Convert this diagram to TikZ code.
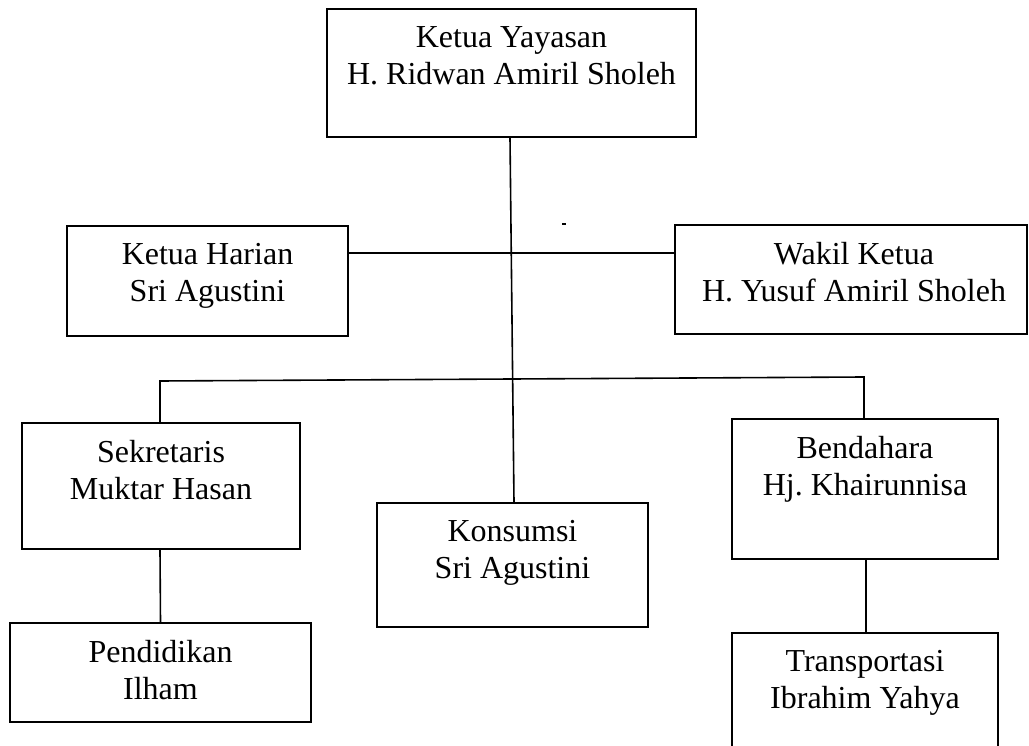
\documentclass[tikz,border=0pt]{standalone}
\usepackage{fontspec}
\setmainfont{Liberation Serif}
\frenchspacing
\begin{document}
\begin{tikzpicture}[x=1pt,y=-1pt,
  box/.style={draw=black, line width=1.6pt, rectangle, inner sep=0pt},
  lbl/.style={anchor=north, align=center, inner sep=0pt, font=\fontsize{32}{37}\selectfont},
  conn/.style={draw=black, line width=1.6pt}]
\useasboundingbox (0,0) rectangle (1029,746);
% boxes
\node[box, minimum width=369pt, minimum height=128pt] (ky) at (511.5,73) {};
\node[box, minimum width=281pt, minimum height=110pt] (kh) at (207.5,281) {};
\node[box, minimum width=352pt, minimum height=109pt] (wk) at (851,279.5) {};
\node[box, minimum width=278pt, minimum height=126pt] (sk) at (161,486) {};
\node[box, minimum width=271pt, minimum height=124pt] (ks) at (512.5,565) {};
\node[box, minimum width=266pt, minimum height=140pt] (bd) at (865,489) {};
\node[box, minimum width=301pt, minimum height=99pt] (pd) at (160.5,672.5) {};
\node[box, minimum width=266pt, minimum height=137pt] (tr) at (865,701.5) {};
% texts
\node[lbl] (kyt) at ([yshift=-18pt]ky.north) {Ketua Yayasan\\H. Ridwan Amiril Sholeh};
\node[lbl] (kht) at ([yshift=-18pt]kh.north) {Ketua Harian\\Sri Agustini};
\node[lbl] (wkt) at ([xshift=3pt,yshift=-18pt]wk.north) {Wakil Ketua\\H. Yusuf Amiril Sholeh};
\node[lbl] (skt) at ([yshift=-18pt]sk.north) {Sekretaris\\Muktar Hasan};
\node[lbl] (kst) at ([yshift=-18pt]ks.north) {Konsumsi\\Sri Agustini};
\node[lbl] (bdt) at ([yshift=-18pt]bd.north) {Bendahara\\Hj. Khairunnisa};
\node[lbl] (pdt) at ([yshift=-18pt]pd.north) {Pendidikan\\Ilham};
\node[lbl] (trt) at ([yshift=-18pt]tr.north) {Transportasi\\Ibrahim Yahya};
% stray mark
\node[fill=black, inner sep=0pt, minimum width=4pt, minimum height=2pt] (mark) at (564,224) {};
% connectors
\coordinate (hy) at (0,253);
\coordinate (busL) at (160,381);
\coordinate (busR) at (864,377);
\draw[conn] ([xshift=-1.5pt]ky.south) -- ([xshift=1.5pt]ks.north);
\draw[conn] (kh.east |- hy) -- (wk.west |- hy);
\draw[conn] (sk.north -| busL) -- (busL) -- (busR) -- (bd.north -| busR);
\draw[conn] ([xshift=-1pt]sk.south) -- (pd.north);
\draw[conn] ([xshift=1pt]bd.south) -- ([xshift=1pt]tr.north);
\end{tikzpicture}
\end{document}
